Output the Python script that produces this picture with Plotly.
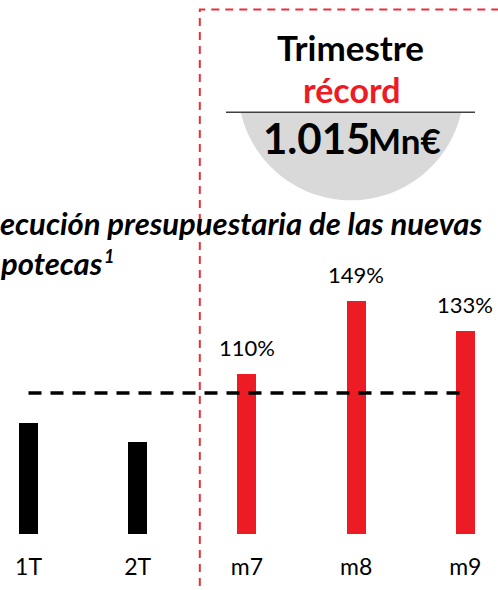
import numpy as np
import plotly.graph_objects as go

# ---- data ----
categories = ["1T", "2T", "m7", "m8", "m9"]
values = [84, 74, 110, 149, 133]
bar_colors = ["#000000", "#000000", "#ED1C24", "#ED1C24", "#ED1C24"]
value_labels = ["", "", "110%", "149%", "133%"]
target_value = 100

title_line1 = "ecución presupuestaria de las nuevas"
title_line2 = "potecas"
title_note = "1"
box_line1 = "Trimestre"
box_line2 = "récord"
box_amount = "1.015"
box_unit = "Mn€"

W, H = 498, 590
MB = 56
PH = H - MB  # plot area height in px (top margin 0)

def px2x(px):
    return px / W

def py2y(py):
    return (PH - py) / PH

def mid(baseline, size):
    # centre of a Lato text box whose baseline sits at pixel row `baseline`
    return baseline - 0.387 * size

xs = list(range(len(categories)))

fig = go.Figure()
fig.add_trace(go.Bar(
    x=xs, y=values, marker_color=bar_colors, width=0.174,
    marker_line_width=0, hoverinfo="skip", showlegend=False,
))
fig.add_trace(go.Scatter(
    x=[xs[0], xs[-1]], y=[target_value, target_value], mode="lines",
    line=dict(color="#000000", width=3.5, dash="13px,9px"),
    hoverinfo="skip", showlegend=False,
))

annotations = []
for xi, v, lab in zip(xs, values, value_labels):
    if lab:
        annotations.append(dict(
            x=xi, y=v, xref="x", yref="y", text=lab, showarrow=False,
            yanchor="middle", yshift=27,
            font=dict(family="Lato", size=22, color="#000000"),
        ))

TF = 31
title_font = dict(family="Lato", size=TF, color="#000000", weight="bold", style="italic")
annotations.append(dict(
    x=px2x(-1), y=py2y(mid(235, TF)), xref="paper", yref="paper", text=title_line1,
    showarrow=False, xanchor="left", yanchor="middle", font=title_font, borderpad=0,
))
annotations.append(dict(
    x=px2x(-1), y=py2y(mid(275, TF)), xref="paper", yref="paper", text=title_line2,
    showarrow=False, xanchor="left", yanchor="middle", font=title_font, borderpad=0,
))
annotations.append(dict(
    x=px2x(103), y=py2y(mid(263, 18)), xref="paper", yref="paper", text=title_note,
    showarrow=False, xanchor="left", yanchor="middle", borderpad=0,
    font=dict(family="Lato", size=18, color="#000000", weight="bold", style="italic"),
))
# box text
annotations.append(dict(
    x=px2x(350.5), y=py2y(mid(61, 35)), xref="paper", yref="paper", text=box_line1,
    showarrow=False, xanchor="center", yanchor="middle",
    font=dict(family="Lato", size=35, color="#000000", weight="bold"),
))
annotations.append(dict(
    x=px2x(351), y=py2y(mid(103, 34)), xref="paper", yref="paper", text=box_line2,
    showarrow=False, xanchor="center", yanchor="middle",
    font=dict(family="Lato", size=34, color="#ED1C24", weight="bold"),
))
annotations.append(dict(
    x=px2x(371), y=py2y(mid(154, 42)), xref="paper", yref="paper", text=box_amount,
    showarrow=False, xanchor="right", yanchor="middle", borderpad=0,
    font=dict(family="Lato", size=42, color="#000000", weight="bold"),
))
annotations.append(dict(
    x=px2x(367), y=py2y(mid(154, 35)), xref="paper", yref="paper", text=box_unit,
    showarrow=False, xanchor="left", yanchor="middle", borderpad=0,
    font=dict(family="Lato", size=35, color="#000000", weight="bold"),
))

# shapes
shapes = []
R, cx, cy, chord_y = 113.0, 351.0, 87.3, 112.3
t0 = np.arcsin((chord_y - cy) / R)
ts = np.linspace(t0, np.pi - t0, 80)
pts = [(px2x(cx + R * np.cos(t)), py2y(cy + R * np.sin(t))) for t in ts]
path = "M " + " L ".join("%.5f,%.5f" % p for p in pts) + " Z"
shapes.append(dict(type="path", path=path, xref="paper", yref="paper",
                   fillcolor="#D9D9D9", line=dict(width=0), layer="below"))
shapes.append(dict(type="line", xref="paper", yref="paper",
                   x0=px2x(226), x1=px2x(475), y0=py2y(chord_y), y1=py2y(chord_y),
                   line=dict(color="#404040", width=1.6), layer="above"))
border = "M %.5f,%.5f L %.5f,%.5f L %.5f,%.5f" % (
    px2x(199.8), py2y(600), px2x(199.8), py2y(9.5), px2x(520), py2y(9.5))
shapes.append(dict(type="path", path=border, xref="paper", yref="paper",
                   line=dict(color="#E8303A", width=2, dash="8px,6px"), layer="above"))

ppx = 109.2  # px per category
x0 = -28.5 / ppx
x1 = x0 + W / ppx
ppv = 1.875  # px per percent
y0 = 24.75
y1 = y0 + PH / ppv

fig.update_layout(
    width=W, height=H,
    margin=dict(l=0, r=0, t=0, b=MB),
    paper_bgcolor="white", plot_bgcolor="white",
    xaxis=dict(range=[x0, x1], tickmode="array", tickvals=xs, ticktext=categories,
               showgrid=False, zeroline=False, showline=False, ticks="",
               tickfont=dict(family="Lato", size=23, color="#000000"),
               ticklabelstandoff=17, fixedrange=True),
    yaxis=dict(range=[y0, y1], visible=False, showgrid=False, zeroline=False, fixedrange=True),
    annotations=annotations, shapes=shapes,
    bargap=0,
)

fig.write_html(
    "out.html",
    config={"displayModeBar": False},
    post_script="document.body.style.margin='0';document.body.style.overflow='hidden';",
)
